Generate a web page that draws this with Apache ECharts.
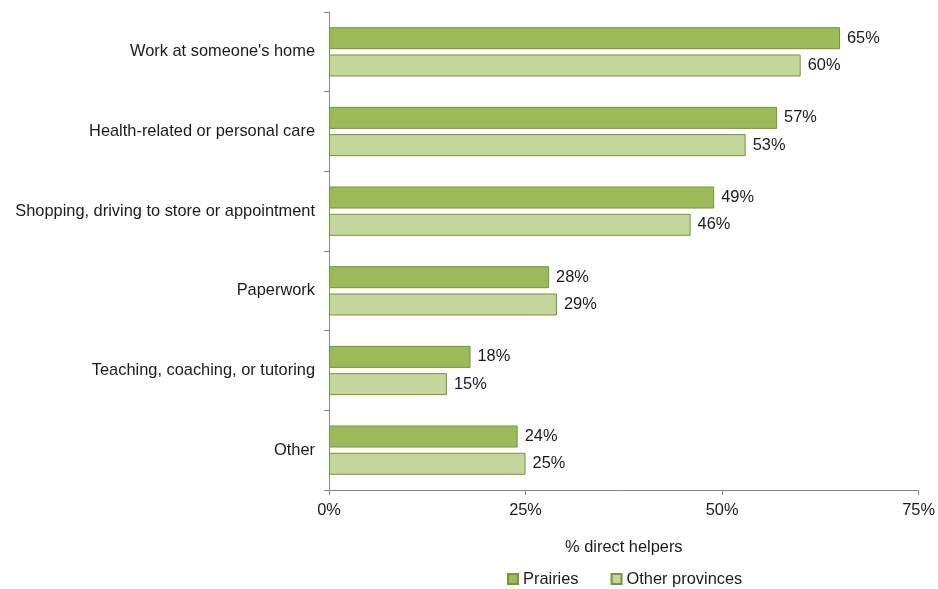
<!DOCTYPE html>
<html>
<head>
<meta charset="utf-8">
<script src="https://cdn.jsdelivr.net/npm/echarts@6/dist/echarts.min.js"></script>
<style>
  html, body { margin: 0; padding: 0; background: #fff; }
  #chart { width: 938px; height: 589px; }
</style>
</head>
<body>
<div id="chart"></div>
<script>
// data
const categories = [
    'Work at someone\'s home',
    'Health-related or personal care',
    'Shopping, driving to store or appointment',
    'Paperwork',
    'Teaching, coaching, or tutoring',
    'Other'
];
const prairies = [65, 57, 49, 28, 18, 24];
const otherProvinces = [60, 53, 46, 29, 15, 25];
const xTicks = [0, 25, 50, 75];

const chart = echarts.init(document.getElementById('chart'));
const font = 'Liberation Sans, Arial, sans-serif';
const fs = 16.4;

const labelStyle = {
    show: true,
    position: 'right',
    distance: 7,
    formatter: '{c}%',
    fontFamily: font,
    fontSize: fs,
    color: '#1a1a1a'
};

chart.setOption({
    animation: false,
    grid: { left: 329, right: 19, top: 12, bottom: 99 },
    legend: {
        top: 566,
        left: 502,
        itemWidth: 10,
        itemHeight: 10,
        itemGap: 32,
        icon: 'rect',
        textStyle: { fontFamily: font, fontSize: fs, color: '#1a1a1a' },
        data: ['Prairies', 'Other provinces']
    },
    xAxis: {
        type: 'value',
        min: xTicks[0],
        max: xTicks[xTicks.length - 1],
        interval: 25,
        name: '% direct helpers',
        nameLocation: 'middle',
        nameGap: 49,
        nameTextStyle: { fontFamily: font, fontSize: fs, color: '#1a1a1a' },
        axisLine: { show: true, lineStyle: { color: '#888' } },
        axisTick: { show: true, length: 5, lineStyle: { color: '#888' } },
        splitLine: { show: false },
        axisLabel: {
            formatter: '{value}%',
            margin: 12,
            fontFamily: font,
            fontSize: fs,
            color: '#1a1a1a'
        }
    },
    yAxis: {
        type: 'category',
        inverse: true,
        data: categories,
        axisLine: { show: true, lineStyle: { color: '#888' } },
        axisTick: { show: true, length: 5, lineStyle: { color: '#888' } },
        axisLabel: {
            margin: 14,
            fontFamily: font,
            fontSize: fs,
            color: '#1a1a1a'
        }
    },
    series: [
        {
            name: 'Prairies',
            type: 'bar',
            data: prairies,
            barWidth: 22,
            barGap: '24%',
            itemStyle: { color: '#9BBB59', borderColor: '#77933C', borderWidth: 1 },
            label: labelStyle
        },
        {
            name: 'Other provinces',
            type: 'bar',
            data: otherProvinces,
            barWidth: 22,
            barGap: '24%',
            itemStyle: { color: '#C3D69B', borderColor: '#77933C', borderWidth: 1 },
            label: labelStyle
        }
    ]
});

window.addEventListener('resize', function () {
    chart.resize();
});
</script>
</body>
</html>
